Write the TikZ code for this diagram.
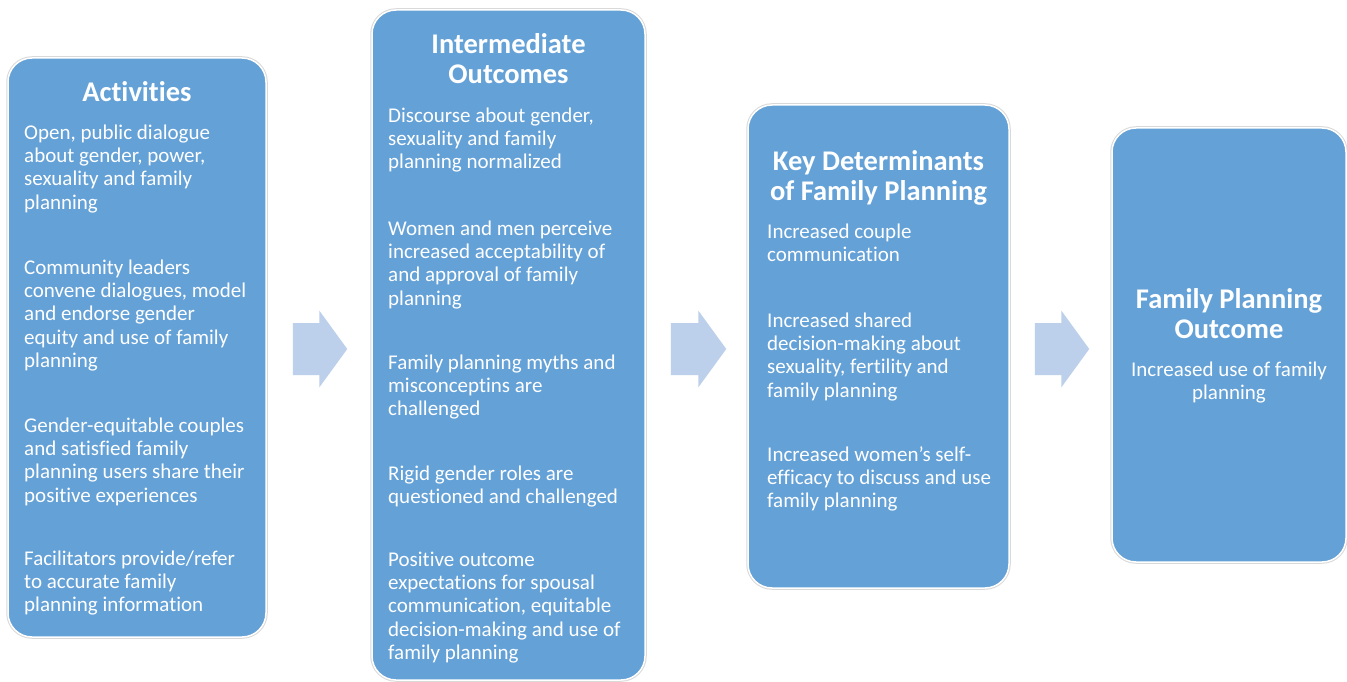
\documentclass[tikz,border=0pt]{standalone}
\usepackage{fontspec}
\setmainfont{Carlito}[Ligatures=TeX, RawFeature={-liga;-calt;-clig;-dlig}]
\usetikzlibrary{calc}
\definecolor{boxblue}{RGB}{100,161,215}
\definecolor{arrowblue}{RGB}{189,208,235}
\newcommand\bodyf{\fontsize{21}{23.3}\selectfont}
\newcommand\titlef{\fontsize{28.5}{30}\selectfont\bfseries}
\begin{document}
\begin{tikzpicture}[x=1pt,y=-1pt,
  box/.style={rectangle, rounded corners=24pt, fill=boxblue, draw=white, line width=1.5pt,
    preaction={draw=black!15, line width=3.5pt}, inner sep=0pt},
  body/.style={anchor=north west, inner sep=0pt, align=left, font=\bodyf, text=white},
  bodyc/.style={anchor=north, inner sep=0pt, align=center, font=\bodyf, text=white},
  title/.style={anchor=north, inner sep=0pt, align=center, font=\titlef, text=white},
  blockarrow/.style={fill=arrowblue, draw=none,
    to path={let \p1=(\tikztostart), \p2=(\tikztotarget) in
      (\x1,\y1+26pt) -- (\x2-28pt,\y1+26pt) -- (\x2-28pt,\y1+38.5pt) -- (\x2,\y1)
      -- (\x2-28pt,\y1-38.5pt) -- (\x2-28pt,\y1-26pt) -- (\x1,\y1-26pt) -- cycle}}
]
\useasboundingbox[fill=white] (0,0) rectangle (1347,682);

% boxes
\node[box, minimum width=258pt, minimum height=579pt] (b1) at (137,347.5) {};
\node[box, minimum width=273pt, minimum height=670pt] (b2) at (508.5,345) {};
\node[box, minimum width=261pt, minimum height=483pt] (b3) at (878.5,346.5) {};
\node[box, minimum width=234pt, minimum height=434pt] (b4) at (1229,345) {};

% box 1
\node[title] (t1) at (137,80) {\strut Activities};
\node[body] (p11) at (24,122.7) {\strut Open, public dialogue\\about gender, power,\\sexuality and family\\planning};
\node[body] (p12) at (24,257.7) {\strut Community leaders\\convene dialogues, model\\and endorse gender\\equity and use of family\\planning};
\node[body] (p13) at (24,415.7) {\strut Gender-equitable couples\\and satisfied family\\planning users share their\\positive experiences};
\node[body] (p14) at (24,548.7) {\strut Facilitators provide/refer\\to accurate family\\planning information};

% box 2
\node[title] (t2) at (508.5,32) {\strut Intermediate\\Outcomes};
\node[body] (p21) at (388,105.7) {\strut Discourse about gender,\\sexuality and family\\planning normalized};
\node[body] (p22) at (388,218.7) {\strut Women and men perceive\\increased acceptability of\\and approval of family\\planning};
\node[body] (p23) at (388,352.7) {\strut Family planning myths and\\misconceptins are\\challenged};
\node[body] (p24) at (388,463.7) {\strut Rigid gender roles are\\questioned and challenged};
\node[body] (p25) at (388,549.7) {\strut Positive outcome\\expectations for spousal\\communication, equitable\\decision-making and use of\\family planning};

% box 3
\node[title] (t3) at (878.5,149) {\strut Key Determinants\\of Family Planning};
\node[body] (p31) at (767,221.7) {\strut Increased couple\\communication};
\node[body] (p32) at (767,310.7) {\strut Increased shared\\decision-making about\\sexuality, fertility and\\family planning};
\node[body] (p33) at (767,444.7) {\strut Increased women's self-\\efficacy to discuss and use\\family planning};

% box 4
\node[title] (t4) at (1229,287) {\strut Family Planning\\Outcome};
\node[bodyc] (p41) at (1229,359.7) {\strut Increased use of family\\planning};

% arrows
\path[blockarrow] ([shift={(26,1.5)}]b1.east) to ([shift={(-24,4)}]b2.west);
\path[blockarrow] ([shift={(25,4)}]b2.east) to ([shift={(-21,2.5)}]b3.west);
\path[blockarrow] ([shift={(25,2.5)}]b3.east) to ([shift={(-22,4)}]b4.west);
\end{tikzpicture}
\end{document}
